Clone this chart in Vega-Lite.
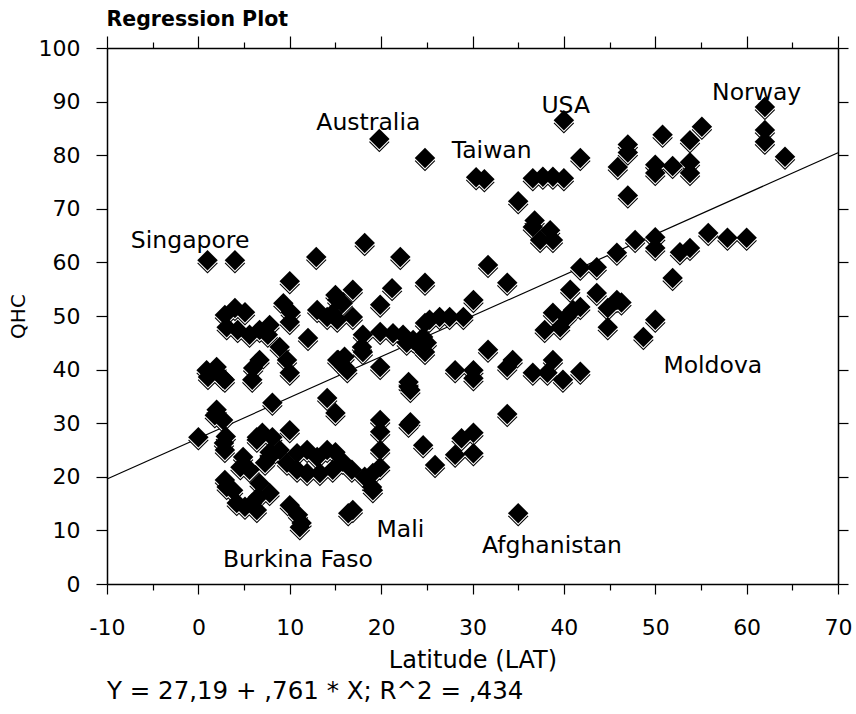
{
  "$schema": "https://vega.github.io/schema/vega-lite/v6.json",
  "autosize": "none",
  "width": 731,
  "height": 536,
  "padding": {"left": 107, "top": 48, "right": 18, "bottom": 130},
  "background": "white",
  "config": {"view": {"stroke": null}, "font": "DejaVu Sans"},
  "title": {"text": "Y = 27,19 + ,761 * X; R^2 = ,434", "orient": "bottom", "anchor": "start", "frame": "group", "font": "DejaVu Sans", "fontSize": 24.5, "fontWeight": "normal", "color": "black", "offset": 8},
  "datasets": {
    "pts": [
      {"lat": 19.8, "qhc": 83}, {"lat": 24.8, "qhc": 79.5}, {"lat": 30.4, "qhc": 75.9}, {"lat": 31.3, "qhc": 75.5}, {"lat": 40, "qhc": 86.5}, {"lat": 41.8, "qhc": 79.5}, {"lat": 36.6, "qhc": 75.7}, {"lat": 37.7, "qhc": 76}, {"lat": 38.8, "qhc": 76}, {"lat": 40, "qhc": 75.7}, {"lat": 35, "qhc": 71.4},
      {"lat": 36.6, "qhc": 66.6}, {"lat": 38.5, "qhc": 66}, {"lat": 37.4, "qhc": 64.2}, {"lat": 38.8, "qhc": 64.2}, {"lat": 36.8, "qhc": 67.8},
      {"lat": 62, "qhc": 89}, {"lat": 62, "qhc": 84.7}, {"lat": 62, "qhc": 82.5}, {"lat": 64.2, "qhc": 79.7}, {"lat": 55.1, "qhc": 85.3}, {"lat": 53.8, "qhc": 82.8}, {"lat": 50.8, "qhc": 83.8}, {"lat": 47, "qhc": 82}, {"lat": 47, "qhc": 80.5}, {"lat": 45.9, "qhc": 77.8}, {"lat": 50, "qhc": 78.2}, {"lat": 50, "qhc": 76.7}, {"lat": 51.9, "qhc": 78}, {"lat": 53.8, "qhc": 78.7}, {"lat": 53.8, "qhc": 76.7}, {"lat": 47, "qhc": 72.5},
      {"lat": 41.8, "qhc": 59}, {"lat": 43.6, "qhc": 59.1}, {"lat": 40.7, "qhc": 54.9}, {"lat": 43.6, "qhc": 54.3}, {"lat": 38.8, "qhc": 50.6}, {"lat": 40.3, "qhc": 49.8}, {"lat": 41, "qhc": 51.1}, {"lat": 41.8, "qhc": 51.7}, {"lat": 37.9, "qhc": 47.4}, {"lat": 39.6, "qhc": 47.9},
      {"lat": 45.8, "qhc": 61.8}, {"lat": 47.8, "qhc": 64.2}, {"lat": 50, "qhc": 64.7}, {"lat": 50, "qhc": 62.7}, {"lat": 52.7, "qhc": 61.9}, {"lat": 53.8, "qhc": 62.7}, {"lat": 55.8, "qhc": 65.5}, {"lat": 57.9, "qhc": 64.6}, {"lat": 60, "qhc": 64.6}, {"lat": 51.9, "qhc": 57.1}, {"lat": 45.8, "qhc": 53}, {"lat": 44.8, "qhc": 51.5}, {"lat": 44.8, "qhc": 47.9}, {"lat": 50, "qhc": 49.3}, {"lat": 48.7, "qhc": 46.1}, {"lat": 46.3, "qhc": 52.5},
      {"lat": 31.7, "qhc": 43.7}, {"lat": 28.1, "qhc": 39.9}, {"lat": 30.1, "qhc": 39.9}, {"lat": 30.1, "qhc": 38.4}, {"lat": 34.4, "qhc": 41.8}, {"lat": 33.8, "qhc": 40.5}, {"lat": 36.6, "qhc": 39.4}, {"lat": 38.8, "qhc": 41.8}, {"lat": 38.2, "qhc": 39.4}, {"lat": 39.9, "qhc": 38.1}, {"lat": 41.8, "qhc": 39.6}, {"lat": 33.8, "qhc": 31.7}, {"lat": 35, "qhc": 13.2},
      {"lat": 18.2, "qhc": 63.6}, {"lat": 22.1, "qhc": 61}, {"lat": 24.8, "qhc": 56.2}, {"lat": 21.2, "qhc": 55.2}, {"lat": 19.9, "qhc": 52.1}, {"lat": 31.7, "qhc": 59.5}, {"lat": 33.8, "qhc": 56.2}, {"lat": 30.1, "qhc": 53}, {"lat": 25.3, "qhc": 49.3}, {"lat": 26.4, "qhc": 49.8}, {"lat": 27.5, "qhc": 49.8}, {"lat": 29, "qhc": 49.8}, {"lat": 24.8, "qhc": 48.7}, {"lat": 25, "qhc": 45},
      {"lat": 18, "qhc": 46.5}, {"lat": 22.8, "qhc": 45}, {"lat": 24.3, "qhc": 44.2}, {"lat": 24.8, "qhc": 43.3}, {"lat": 18, "qhc": 43.3}, {"lat": 16, "qhc": 40.5}, {"lat": 19.9, "qhc": 40.5}, {"lat": 23, "qhc": 36.8}, {"lat": 23, "qhc": 37.7}, {"lat": 19.9, "qhc": 47}, {"lat": 21.3, "qhc": 46.8}, {"lat": 22.4, "qhc": 46.5}, {"lat": 23.5, "qhc": 45.5}, {"lat": 24.6, "qhc": 46.1}, {"lat": 17.9, "qhc": 44.2}, {"lat": 15.2, "qhc": 41.8}, {"lat": 16, "qhc": 42.4}, {"lat": 16.3, "qhc": 39.9},
      {"lat": 1, "qhc": 60.4}, {"lat": 4, "qhc": 60.4}, {"lat": 12.9, "qhc": 61}, {"lat": 10, "qhc": 56.5}, {"lat": 2.9, "qhc": 50.2}, {"lat": 4, "qhc": 51.5}, {"lat": 5.1, "qhc": 50.7}, {"lat": 3.1, "qhc": 47.9}, {"lat": 4.3, "qhc": 47.4}, {"lat": 5.6, "qhc": 46.5}, {"lat": 6.7, "qhc": 47.4}, {"lat": 7.8, "qhc": 48.3}, {"lat": 7.6, "qhc": 46.5},
      {"lat": 9.3, "qhc": 52.4}, {"lat": 10.1, "qhc": 50.7}, {"lat": 10, "qhc": 48.9}, {"lat": 12, "qhc": 45.9}, {"lat": 13, "qhc": 51.1}, {"lat": 14.1, "qhc": 49.8}, {"lat": 15, "qhc": 53.9}, {"lat": 15.2, "qhc": 49.3}, {"lat": 15.8, "qhc": 52.4}, {"lat": 16.9, "qhc": 54.9}, {"lat": 16.9, "qhc": 49.8}, {"lat": 14.7, "qhc": 50.5}, {"lat": 15.2, "qhc": 53},
      {"lat": 1.05, "qhc": 38.6}, {"lat": 2, "qhc": 40.5}, {"lat": 2.7, "qhc": 38.4}, {"lat": 6, "qhc": 40.3}, {"lat": 6.7, "qhc": 41.8}, {"lat": 8.1, "qhc": 33.8}, {"lat": 1.8, "qhc": 31.5}, {"lat": 14.1, "qhc": 34.7}, {"lat": 15, "qhc": 31.9}, {"lat": 15.3, "qhc": 41.8}, {"lat": 0.9, "qhc": 39.9}, {"lat": 2.9, "qhc": 38.1}, {"lat": 5.9, "qhc": 38.1}, {"lat": 8.9, "qhc": 44.2}, {"lat": 9.7, "qhc": 41.8}, {"lat": 10, "qhc": 39.4}, {"lat": 2, "qhc": 32.5}, {"lat": 2.7, "qhc": 30.6}, {"lat": 0, "qhc": 27.4}, {"lat": 2.8, "qhc": 26.3}, {"lat": 2.9, "qhc": 25}, {"lat": 3, "qhc": 27.5},
      {"lat": 7, "qhc": 28.2}, {"lat": 6.4, "qhc": 26.9}, {"lat": 7.8, "qhc": 24.6}, {"lat": 7.3, "qhc": 22.6}, {"lat": 10, "qhc": 28.7}, {"lat": 8.9, "qhc": 25}, {"lat": 9.7, "qhc": 22.6}, {"lat": 10.8, "qhc": 24.4}, {"lat": 11.9, "qhc": 25}, {"lat": 13, "qhc": 23.7}, {"lat": 14.1, "qhc": 25}, {"lat": 15, "qhc": 24.6}, {"lat": 15.8, "qhc": 22.8}, {"lat": 10.8, "qhc": 21.3}, {"lat": 11.9, "qhc": 20.7}, {"lat": 13.3, "qhc": 20.7}, {"lat": 14.7, "qhc": 21.3}, {"lat": 16.8, "qhc": 21.3}, {"lat": 18.2, "qhc": 20}, {"lat": 19.1, "qhc": 20.7}, {"lat": 19.1, "qhc": 17.5}, {"lat": 19.9, "qhc": 21.8}, {"lat": 19.9, "qhc": 30.6}, {"lat": 19.9, "qhc": 28.4}, {"lat": 19.9, "qhc": 25}, {"lat": 23.2, "qhc": 30.2}, {"lat": 23.2, "qhc": 36.2}, {"lat": 24.6, "qhc": 25.9},
      {"lat": 16.9, "qhc": 13.8}, {"lat": 10, "qhc": 14.7}, {"lat": 10.9, "qhc": 12.9}, {"lat": 11.3, "qhc": 11.4}, {"lat": 4.9, "qhc": 23.7}, {"lat": 4.6, "qhc": 21.8}, {"lat": 5.6, "qhc": 21.3}, {"lat": 2.9, "qhc": 19.4}, {"lat": 3.8, "qhc": 17.5}, {"lat": 4.2, "qhc": 15.1}, {"lat": 5.9, "qhc": 15.1}, {"lat": 6.5, "qhc": 16.2}, {"lat": 7.8, "qhc": 17}, {"lat": 6.4, "qhc": 13.8}, {"lat": 3.1, "qhc": 18.1}, {"lat": 5.1, "qhc": 14.4}, {"lat": 6.7, "qhc": 18.8}, {"lat": 6.4, "qhc": 27.4}, {"lat": 8.1, "qhc": 27.4}, {"lat": 7.8, "qhc": 23.7}, {"lat": 11.1, "qhc": 10.6}, {"lat": 16.4, "qhc": 13.2}, {"lat": 19, "qhc": 18.1},
      {"lat": 23, "qhc": 29.7}, {"lat": 25.9, "qhc": 22.2}, {"lat": 28.1, "qhc": 24.1}, {"lat": 28.8, "qhc": 27.2}, {"lat": 30.1, "qhc": 28.2}, {"lat": 30.1, "qhc": 24.4}
    ],
    "labels": [
      {"lat": 18.6, "qhc": 84.7, "name": "Australia"},
      {"lat": 40.2, "qhc": 87.9, "name": "USA"},
      {"lat": 61.1, "qhc": 90.3, "name": "Norway"},
      {"lat": 32.1, "qhc": 79.5, "name": "Taiwan"},
      {"lat": -0.9, "qhc": 62.7, "name": "Singapore"},
      {"lat": 56.3, "qhc": 39.4, "name": "Moldova"},
      {"lat": 22.1, "qhc": 8.8, "name": "Mali"},
      {"lat": 10.9, "qhc": 3.2, "name": "Burkina Faso"},
      {"lat": 38.7, "qhc": 5.8, "name": "Afghanistan"}
    ],
    "fit": [
      {"lat": -10, "qhc": 19.58},
      {"lat": 70, "qhc": 80.46}
    ]
  },
  "resolve": {"axis": {"x": "independent", "y": "independent"}},
  "layer": [
    {
      "mark": {"type": "rule", "color": "#999999", "strokeWidth": 1, "strokeDash": [1, 4]},
      "encoding": {
        "x": {"datum": 0, "type": "quantitative", "scale": {"domain": [-10, 70], "nice": false}, "axis": null}
      }
    },
    {
      "data": {"name": "fit"},
      "mark": {"type": "line", "color": "black", "strokeWidth": 1.2},
      "encoding": {
        "x": {"field": "lat", "type": "quantitative", "scale": {"domain": [-10, 70], "nice": false},
          "axis": {"orient": "top", "values": [-10, -5, 0, 5, 10, 15, 20, 25, 30, 35, 40, 45, 50, 55, 60, 65, 70], "labels": false, "grid": false,
            "domainColor": "black", "domainWidth": 1.5, "tickColor": "black", "tickWidth": 1.2,
            "tickSize": {"condition": {"test": "datum.value % 10 === 0", "value": 12}, "value": 6},
            "title": "Regression Plot", "titleAnchor": "start", "titleAlign": "left", "titleFont": "DejaVu Sans", "titleFontSize": 20.5, "titleFontWeight": "bold", "titleColor": "black", "titlePadding": 6, "titleX": -1}},
        "y": {"field": "qhc", "type": "quantitative", "scale": {"domain": [0, 100], "nice": false},
          "axis": {"orient": "right", "values": [0, 10, 20, 30, 40, 50, 60, 70, 80, 90, 100], "labels": false, "grid": false, "title": null,
            "domainColor": "black", "domainWidth": 1.5, "tickColor": "black", "tickWidth": 1.2, "tickSize": 10}}
      }
    },
    {
      "data": {"name": "pts"},
      "mark": {"type": "point", "shape": "diamond", "filled": true, "color": "black", "opacity": 1, "size": 420, "yOffset": 3},
      "encoding": {
        "x": {"field": "lat", "type": "quantitative", "scale": {"domain": [-10, 70], "nice": false}, "axis": null},
        "y": {"field": "qhc", "type": "quantitative", "scale": {"domain": [0, 100], "nice": false}, "axis": null}
      }
    },
    {
      "data": {"name": "pts"},
      "mark": {"type": "point", "shape": "diamond", "filled": true, "color": "white", "opacity": 1, "size": 420, "yOffset": 1.5},
      "encoding": {
        "x": {"field": "lat", "type": "quantitative", "scale": {"domain": [-10, 70], "nice": false}, "axis": null},
        "y": {"field": "qhc", "type": "quantitative", "scale": {"domain": [0, 100], "nice": false}, "axis": null}
      }
    },
    {
      "data": {"name": "pts"},
      "mark": {"type": "point", "shape": "diamond", "filled": true, "color": "black", "opacity": 1, "size": 420},
      "encoding": {
        "x": {"field": "lat", "type": "quantitative", "scale": {"domain": [-10, 70], "nice": false},
          "axis": {"orient": "bottom", "values": [-10, -5, 0, 5, 10, 15, 20, 25, 30, 35, 40, 45, 50, 55, 60, 65, 70],
            "labelExpr": "datum.value % 10 === 0 ? toString(datum.value) : ''", "grid": false, "labelOverlap": false, "labelFlush": false,
            "domainColor": "black", "domainWidth": 1.5, "tickColor": "black", "tickWidth": 1.2,
            "tickSize": {"condition": {"test": "datum.value % 10 === 0", "value": 10}, "value": 6},
            "labelFont": "DejaVu Sans", "labelFontSize": 22, "labelColor": "black", "labelPadding": 23,
            "title": "Latitude (LAT)", "titleFont": "DejaVu Sans", "titleFontSize": 24, "titleFontWeight": "normal", "titleColor": "black", "titlePadding": 10}},
        "y": {"field": "qhc", "type": "quantitative", "scale": {"domain": [0, 100], "nice": false},
          "axis": {"orient": "left", "values": [0, 10, 20, 30, 40, 50, 60, 70, 80, 90, 100], "grid": false,
            "domainColor": "black", "domainWidth": 1.5, "tickColor": "black", "tickWidth": 1.2, "tickSize": 11,
            "labelFont": "DejaVu Sans", "labelFontSize": 22, "labelColor": "black", "labelPadding": 16,
            "title": "QHC", "titleFont": "DejaVu Sans", "titleFontSize": 20, "titleFontWeight": "normal", "titleColor": "black", "titlePadding": 10}}
      }
    },
    {
      "data": {"name": "labels"},
      "mark": {"type": "text", "font": "DejaVu Sans", "fontSize": 23.5, "color": "black", "align": "center", "baseline": "alphabetic"},
      "encoding": {
        "x": {"field": "lat", "type": "quantitative", "scale": {"domain": [-10, 70], "nice": false}, "axis": null},
        "y": {"field": "qhc", "type": "quantitative", "scale": {"domain": [0, 100], "nice": false}, "axis": null},
        "text": {"field": "name"}
      }
    }
  ]
}
